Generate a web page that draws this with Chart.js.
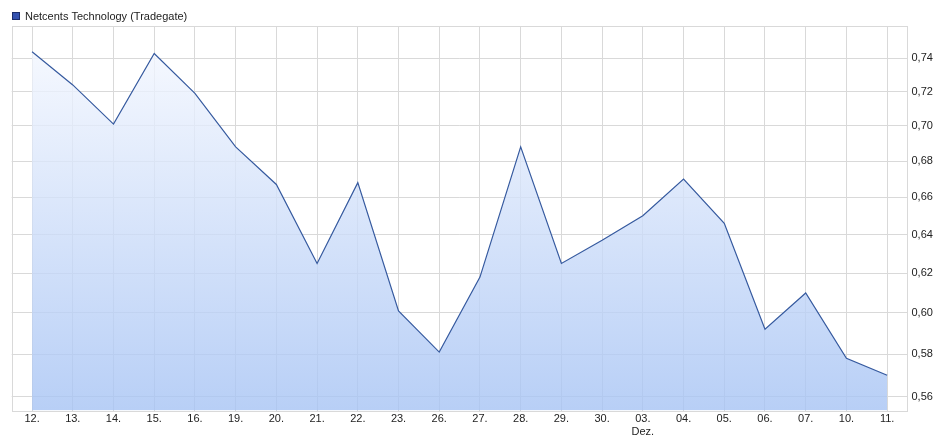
<!DOCTYPE html>
<html>
<head>
<meta charset="utf-8">
<script src="https://cdn.jsdelivr.net/npm/chart.js@4"></script>
<style>
html,body{margin:0;padding:0;background:#fff;}
#wrap{width:944px;height:442px;position:relative;}
</style>
</head>
<body>
<div id="wrap"><canvas id="c" width="944" height="442"></canvas></div>
<script>
const seriesName = 'Netcents Technology (Tradegate)';
const categories = ['12.','13.','14.','15.','16.','19.','20.','21.','22.','23.','26.','27.','28.','29.','30.',['03.','Dez.'],'04.','05.','06.','07.','10.','11.'];
const prices = [0.744,0.724,0.701,0.743,0.719,0.688,0.667,0.625,0.668,0.601,0.581,0.618,0.688,0.625,0.637,0.650,0.670,0.646,0.592,0.610,0.578,0.570];
const yTicks = [0.56,0.58,0.60,0.62,0.64,0.66,0.68,0.70,0.72,0.74];

const gridColor = '#d9d9d9';
const FONT = 'Liberation Sans, Arial, sans-serif';

const frame = {
  id: 'frame',
  afterDraw(chart) {
    const {ctx, chartArea: a} = chart;
    ctx.save();
    ctx.strokeStyle = gridColor;
    ctx.lineWidth = 1;
    ctx.strokeRect(Math.round(a.left) + 0.5, Math.round(a.top) + 0.5, Math.round(a.right - a.left) - 1, Math.round(a.bottom - a.top));
    ctx.restore();
  }
};

const legendBox = {
  id: 'legendBox',
  afterDraw(chart) {
    const {ctx} = chart;
    const ds = chart.data.datasets[0];
    ctx.save();
    ctx.fillStyle = '#3452b0';
    ctx.strokeStyle = '#1b2d6b';
    ctx.lineWidth = 1;
    ctx.fillRect(12.5, 12.5, 7, 7);
    ctx.strokeRect(12.5, 12.5, 7, 7);
    ctx.fillStyle = '#222';
    ctx.font = '11px ' + FONT;
    ctx.textBaseline = 'middle';
    ctx.textAlign = 'left';
    ctx.fillText(ds.label, 25, 16.5);
    ctx.restore();
  }
};

new Chart(document.getElementById('c'), {
  type: 'line',
  data: {
    labels: categories,
    datasets: [{
      label: seriesName,
      data: prices,
      borderColor: '#365a9f',
      borderWidth: 1.2,
      pointRadius: 0,
      tension: 0,
      fill: 'start',
      backgroundColor(ctx) {
        const ch = ctx.chart, a = ch.chartArea;
        if (!a) return 'rgba(168,196,244,0.8)';
        const g = ch.ctx.createLinearGradient(0, a.top, 0, a.bottom);
        g.addColorStop(0, 'rgba(248,250,255,0.8)');
        g.addColorStop(1, 'rgba(166,195,244,0.8)');
        return g;
      }
    }]
  },
  options: {
    responsive: false,
    animation: false,
    layout: {padding: {top: 26, left: 11.7, right: 0, bottom: 0}},
    plugins: {
      tooltip: {enabled: false},
      legend: {display: false}
    },
    scales: {
      x: {
        type: 'category',
        offset: true,
        grid: {color: gridColor, offset: false, drawTicks: false},
        border: {display: false},
        ticks: {
          color: '#222', padding: 2, maxRotation: 0, autoSkip: false,
          font: {family: FONT, size: 11}
        },
        afterFit(s) { s.height = 31.5; }
      },
      y: {
        type: 'logarithmic',
        position: 'right',
        bounds: 'data',
        min: 0.5537,
        max: 0.76,
        grid: {color: gridColor, drawTicks: false},
        border: {display: false},
        ticks: {
          color: '#222', padding: 4,
          font: {family: FONT, size: 11},
          callback: v => Number(v).toFixed(2).replace('.', ',')
        },
        afterBuildTicks(s) { s.ticks = yTicks.map(v => ({value: v})); },
        afterFit(s) { s.width = 36.5; }
      }
    }
  },
  plugins: [frame, legendBox]
});
</script>
</body>
</html>
